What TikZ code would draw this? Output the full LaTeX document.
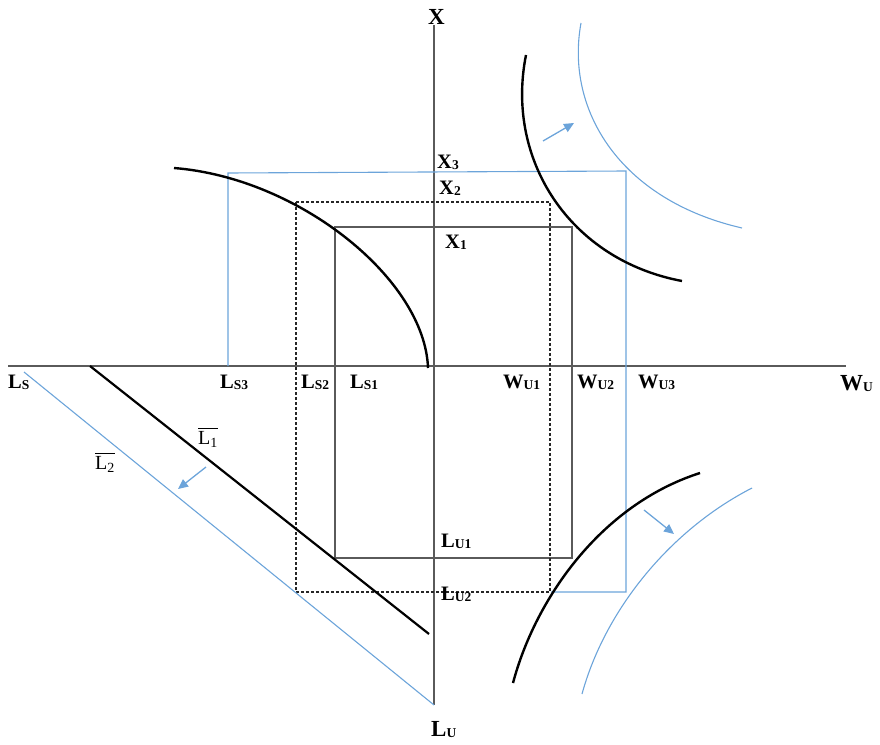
\documentclass[tikz,border=0pt]{standalone}
\usepackage{fontspec}
\setmainfont{Liberation Serif}
\usepackage{amsmath}
\usetikzlibrary{arrows.meta}
\definecolor{lblue}{RGB}{108,164,218}
\definecolor{axgray}{RGB}{90,90,90}
\newcommand{\sbs}[1]{\raisebox{-1.5pt}{\fontsize{13.5}{13.5}\selectfont #1}}
\begin{document}
\begin{tikzpicture}[x=1pt,y=-1pt,
  axis/.style={draw=axgray,line width=1.3pt},
  boxline/.style={draw=axgray,line width=1.2pt},
  dashline/.style={draw=black!85,line width=1.1pt,dash pattern=on 3pt off 2pt},
  blueline/.style={draw=lblue,line width=1.1pt},
  curve/.style={draw=black,line width=2.4pt},
  bluearrow/.style={draw=lblue,line width=1.3pt,-{Triangle[length=10pt,width=9pt,fill=lblue]}},
  lab/.style={anchor=base west,inner sep=0pt,font=\fontsize{20.5}{20.5}\selectfont\bfseries},
  biglab/.style={anchor=base west,inner sep=0pt,font=\fontsize{23}{23}\selectfont\bfseries},
  barlab/.style={anchor=center,inner sep=0pt,font=\fontsize{20}{20}\selectfont}]
\useasboundingbox (0,0) rectangle (880,744);
% axes
\coordinate (axL) at (8,366);
\coordinate (axR) at (846,366);
\coordinate (axT) at (434,25);
\coordinate (axB) at (434,705);
\draw[axis] (axL) -- (axR);
\draw[axis] (axT) -- (axB);
% solid box
\coordinate (s1) at (335,227);
\coordinate (s2) at (572,227);
\coordinate (s3) at (572,558);
\coordinate (s4) at (335,558);
\draw[boxline] (s1) -- (s2) -- (s3) -- (s4) -- cycle;
% dashed box
\coordinate (d1) at (296,202);
\coordinate (d2) at (550,202);
\coordinate (d3) at (550,592);
\coordinate (d4) at (296,592);
\draw[dashline] (d1) -- (d2) -- (d3) -- (d4) -- cycle;
% blue lines
\coordinate (b1) at (228,366);
\coordinate (b2) at (228,173);
\coordinate (b3) at (626,171);
\coordinate (b4) at (626,592);
\coordinate (b5) at (551,592);
\draw[blueline] (b1) -- (b2) -- (b3) -- (b4) -- (b5);
% top-left black curve
\coordinate (tl0) at (174,168);
\coordinate (tl1) at (428,368);
\draw[curve] (tl0) .. controls (300,178) and (425,280) .. (tl1);
% top-right black curve
\coordinate (tr0) at (526,55);
\coordinate (tr1) at (682,281);
\draw[curve] (tr0) .. controls (505,160) and (570,260) .. (tr1);
% top-right blue curve
\coordinate (tb0) at (581,23);
\coordinate (tb1) at (742,228);
\draw[blueline] (tb0) .. controls (565,110) and (620,200) .. (tb1);
% bottom-right black curve
\coordinate (br0) at (513,683);
\coordinate (br1) at (700,473);
\draw[curve] (br0) .. controls (535,600) and (600,505) .. (br1);
% bottom-right blue curve
\coordinate (bb0) at (582,694);
\coordinate (bb1) at (752,488);
\draw[blueline] (bb0) .. controls (605,610) and (670,530) .. (bb1);
% budget lines
\coordinate (k0) at (90,366);
\coordinate (k1) at (429,634);
\draw[curve,line width=2.2pt] (k0) -- (k1);
\coordinate (q0) at (24,372);
\coordinate (q1) at (434,705);
\draw[blueline] (q0) -- (q1);
% arrows
\coordinate (a1s) at (543,141);
\coordinate (a1e) at (574,123);
\draw[bluearrow] (a1s) -- (a1e);
\coordinate (a2s) at (644,510);
\coordinate (a2e) at (674,534);
\draw[bluearrow] (a2s) -- (a2e);
\coordinate (a3s) at (206,467);
\coordinate (a3e) at (178,489);
\draw[bluearrow] (a3s) -- (a3e);
% labels
\node[biglab] (X) at (428,24) {X};
\node[lab] (X3) at (437,168) {X\sbs{3}};
\node[lab] (X2) at (439,194) {X\sbs{2}};
\node[lab] (X1) at (445,248) {X\sbs{1}};
\node[lab] (LS) at (8,388) {L\sbs{S}};
\node[lab] (LS3) at (220,388) {L\sbs{S3}};
\node[lab] (LS2) at (301,388) {L\sbs{S2}};
\node[lab] (LS1) at (350,388) {L\sbs{S1}};
\node[lab] (WU1) at (503,388) {W\sbs{U1}};
\node[lab] (WU2) at (577,388) {W\sbs{U2}};
\node[lab] (WU3) at (638,388) {W\sbs{U3}};
\node[biglab] (WU) at (840,390) {W\sbs{U}};
\node[lab] (LU1) at (441,547) {L\sbs{U1}};
\node[lab] (LU2) at (441,600) {L\sbs{U2}};
\node[biglab] (LU) at (431,736) {L\sbs{U}};
\node[barlab] (Lb1) at (208,437) {$\overline{\text{L}_{\text{1}}}$};
\node[barlab] (Lb2) at (105,462) {$\overline{\text{L}_{\text{2}}}$};
\end{tikzpicture}
\end{document}
